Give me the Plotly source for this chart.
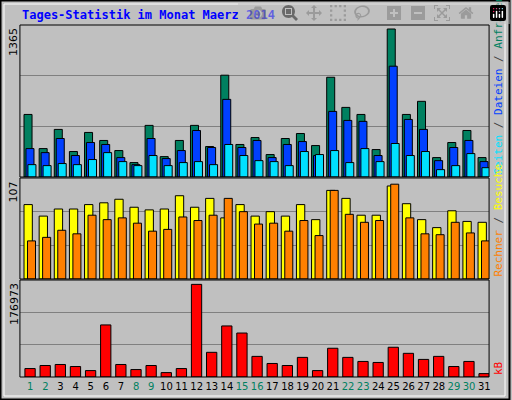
import plotly.graph_objects as go

days = list(range(1, 32))
hits = [577,262,439,235,411,337,244,133,476,188,337,476,281,939,300,364,207,355,401,290,920,642,577,253,1365,577,698,179,318,429,179]
files = [262,225,355,198,318,300,179,114,355,170,244,429,272,716,272,337,179,300,327,198,605,522,513,198,1022,531,439,151,272,337,142]
pages = [114,105,124,114,161,225,142,105,198,105,133,142,114,300,198,151,142,105,235,207,244,133,262,142,309,198,235,68,105,216,86]
visits = [84,71,79,79,84,86,90,81,78,79,94,81,91,69,84,71,76,71,84,67,100,91,72,72,105,85,67,58,77,65,64]
sites = [43,47,55,51,72,67,69,63,54,56,70,66,72,91,76,62,63,54,66,49,100,73,64,66,107,69,51,50,64,52,43]
kb = [16148,21960,23900,20020,12270,99470,23900,14210,21960,8400,16150,176973,47150,97530,83970,39400,25840,21960,37460,12270,54900,37460,29710,27770,56840,45210,33590,39400,20020,29710,6460]
weekend = {1,2,8,9,15,16,22,23,29,30}
max_labels = ["1365", "107", "176973"]

W, H = 512, 400
def py(p): return 1 - p / H
def px(p): return p / W

x0 = [d - 1 for d in days]
line = dict(color="black", width=1)
fig = go.Figure()
def bar(y, color, off, w, ax):
    fig.add_trace(go.Bar(x=x0, y=y, offset=off, width=w, marker=dict(color=color, line=line),
                         xaxis="x" + ax, yaxis="y" + ax, showlegend=False, hoverinfo="skip"))
bar(hits, "#008060", 0.27, 0.53, "")
bar(files, "#0040FF", 0.40, 0.53, "")
bar(pages, "#00E0FF", 0.53, 0.53, "")
bar(visits, "#FFFF00", 0.27, 0.55, "2")
bar(sites, "#FF8000", 0.50, 0.53, "2")
bar(kb, "#FF0000", 0.33, 0.68, "3")
for t in fig.data[:3]:
    t.xaxis = "x"; t.yaxis = "y"

xd = [px(20), px(491)]
ticktext = [f'<span style="color:{"#008060" if d in weekend else "black"}">{d}</span>' for d in days]
common_x = dict(range=[0, 31], showgrid=False, zeroline=False, domain=xd, showline=False)
fig.update_layout(
    width=W, height=H, autosize=False, margin=dict(l=0, r=0, t=0, b=0),
    paper_bgcolor="#C0C0C0", plot_bgcolor="#C0C0C0", barmode="overlay",
    font=dict(family="DejaVu Sans", size=11, color="black"),
    xaxis=dict(**common_x, anchor="y", showticklabels=False),
    xaxis2=dict(**common_x, anchor="y2", showticklabels=False),
    xaxis3=dict(**common_x, anchor="y3", tickvals=[d - 1 + 0.68 for d in days], ticktext=ticktext,
                ticks="", tickangle=0, ticklabelstandoff=2,
                tickfont=dict(size=10, family="DejaVu Sans")),
)
panels = [("", 1402, 25, 177), ("2", 114, 178, 279), ("3", 185300, 280, 377)]
for ax, R, top, bot in panels:
    key = "yaxis" + ax
    fig.layout[key] = dict(domain=[py(bot), py(top)], range=[0, R], anchor="x" + ax,
                           tickvals=[R / 3, 2 * R / 3], showticklabels=False, ticks="",
                           gridcolor="#808080", gridwidth=1, zeroline=False)
    fig.add_shape(type="rect", xref="paper", yref="paper", x0=px(20), x1=px(491), y0=py(bot), y1=py(top),
                  line=dict(color="black", width=1))

fig.add_shape(type="rect", xref="paper", yref="paper", x0=0.001, x1=0.999, y0=0.001, y1=0.999,
              line=dict(color="black", width=2))
fig.add_shape(type="rect", xref="paper", yref="paper", x0=px(4), x1=px(507), y0=py(396), y1=py(4),
              line=dict(color="white", width=1))

fig.add_annotation(text="<b>Tages-Statistik im Monat Maerz 2014</b>", x=px(20), y=py(6), xref="paper", yref="paper",
                   xanchor="left", yanchor="top", showarrow=False,
                   font=dict(family="DejaVu Sans Mono", size=12, color="#0000FF"))
for (ax, R, top, bot), lab in zip(panels, max_labels):
    fig.add_annotation(text=lab, x=px(14), y=py(top + 1), xref="paper", yref="paper", textangle=-90,
                       xanchor="center", yanchor="top", showarrow=False,
                       font=dict(family="DejaVu Sans", size=11, color="black"))
mono = dict(family="DejaVu Sans Mono", size=11)
rl = [
    ('<span style="color:#00E0FF">Seiten</span> / <span style="color:#0040FF">Dateien</span> / <span style="color:#008060">Anfragen</span>', 177),
    ('<span style="color:#FF8000">Rechner</span> / <span style="color:#FFFF00">Besuche</span>', 279),
    ('<span style="color:#FF0000">kB</span>', 377),
]
for t, bot in rl:
    fig.add_annotation(text=t, x=px(500), y=py(bot), xref="paper", yref="paper", textangle=-90,
                       xanchor="center", yanchor="bottom", showarrow=False, font=dict(**mono, color="#404040"))
fig.write_html("out.html")

with open("out.html", encoding="utf-8") as f:
    html = f.read()
html = html.replace("<head>", "<head><style>html,body{margin:0;padding:0;overflow:hidden}</style>", 1)
with open("out.html", "w", encoding="utf-8") as f:
    f.write(html)
